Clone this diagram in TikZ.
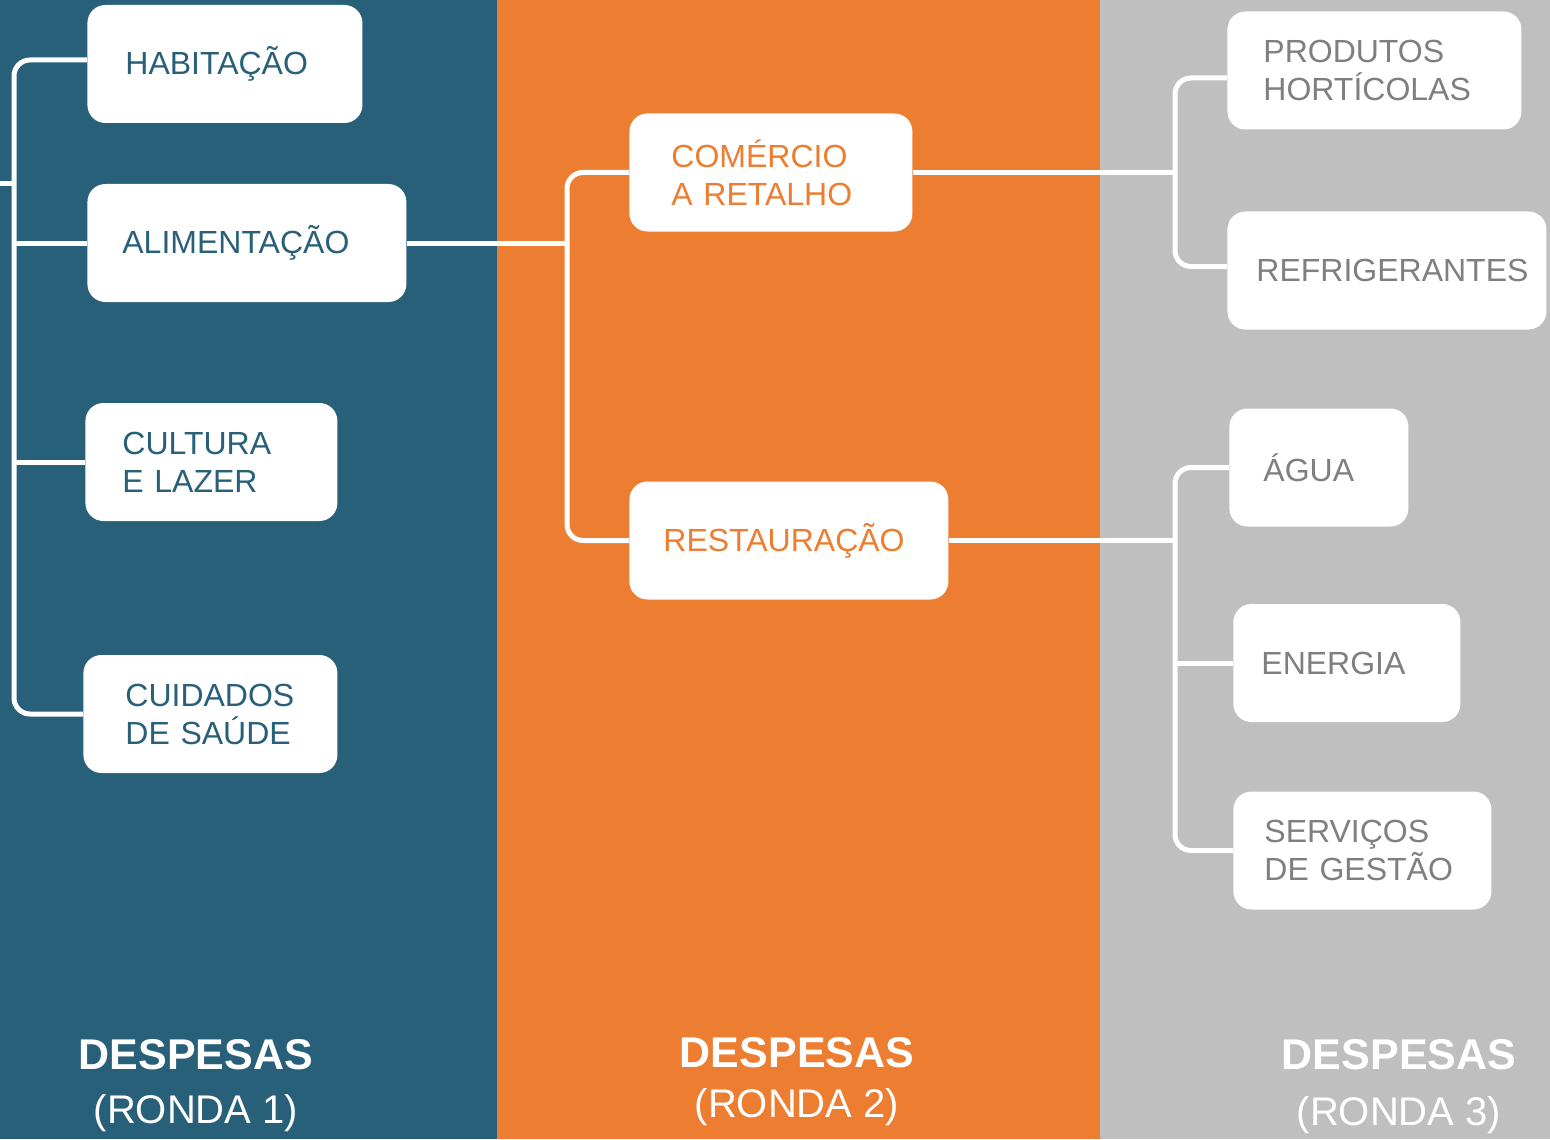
\documentclass[tikz,border=0pt]{standalone}
\usepackage{fontspec}
\setmainfont{Liberation Sans}
\definecolor{cblue}{HTML}{296079}
\definecolor{corange}{HTML}{ED7D31}
\definecolor{cgray}{HTML}{BFBFBF}
\definecolor{tgray}{HTML}{7F7F7F}
\begin{document}
\begin{tikzpicture}[x=0.5pt,y=-0.5pt,
  box/.style={rectangle, rounded corners=9pt, fill=white, draw=none, anchor=west,
    align=left, minimum height=59pt, inner ysep=0pt, font=\fontsize{16}{19}\selectfont},
  bluebox/.style={box, text=cblue},
  orangebox/.style={box, text=corange},
  graybox/.style={box, text=tgray},
  conn/.style={draw=white, line width=2.5pt, rounded corners=8pt},
  title/.style={anchor=base, inner sep=0pt, text=white, font=\fontsize{21.5}{24}\selectfont\bfseries},
  subtitle/.style={anchor=base, inner sep=0pt, text=white, font=\fontsize{20}{24}\selectfont}]
\useasboundingbox (0,0) rectangle (1550,1139);
% panels
\fill[cblue] (0,0) rectangle (497,1139);
\fill[corange] (497,0) rectangle (1100,1139);
\fill[cgray] (1100,0) rectangle (1550,1139);

% helper coordinates
\coordinate (lbx) at (14,0);
\coordinate (mbx) at (567,0);
\coordinate (rbx) at (1175,0);
\coordinate (lstub) at (0,184);

% round 1 boxes
\node[bluebox, text width=99.5pt, inner xsep=19pt, minimum width=137.5pt] (hab) at (87,64) {HABITAÇÃO};
\node[bluebox, text width=124.5pt, inner xsep=17.5pt] (ali) at (87,243) {ALIMENTAÇÃO};
\node[bluebox, text width=89pt, inner xsep=18.5pt] (cul) at (85,462) {CULTURA\\E LAZER};
\node[bluebox, text width=85pt, inner xsep=21pt] (cui) at (83,714) {CUIDADOS\\DE SAÚDE};

% round 2 boxes
\node[orangebox, text width=99.5pt, inner xsep=21pt] (com) at (629,172.5) {COMÉRCIO\\A RETALHO};
\node[orangebox, text width=125.5pt, inner xsep=17pt] (res) at (629,540.5) {RESTAURAÇÃO};

% round 3 boxes
\node[graybox, text width=111pt, inner xsep=18pt] (pro) at (1227,70.5) {PRODUTOS\\HORTÍCOLAS};
\node[graybox, text width=130.5pt, inner xsep=14.5pt] (ref) at (1227,270.5) {REFRIGERANTES};
\node[graybox, text width=55.5pt, inner xsep=17pt] (agu) at (1229,467.5) {ÁGUA};
\node[graybox, text width=85.5pt, inner xsep=14pt] (ene) at (1233,663) {ENERGIA};
\node[graybox, text width=98pt, inner xsep=15.5pt] (ser) at (1233,850.5) {SERVIÇOS\\DE GESTÃO};

% connectors round 1
\draw[conn] ([yshift=2pt]hab.west) -- ([yshift=2pt]hab.west -| lbx) -- (cui.west -| lbx) -- (cui.west);
\draw[conn] (ali.west) -- (ali.west -| lbx);
\draw[conn] (cul.west) -- (cul.west -| lbx);
\draw[conn] (lstub) -- (lstub -| lbx);

% connectors round 2
\draw[conn] (ali.east) -- (ali.east -| mbx);
\draw[conn] (com.west) -- (com.west -| mbx) -- (res.west -| mbx) -- (res.west);

% connectors round 3
\draw[conn] (com.east) -- (com.east -| rbx);
\draw[conn] ([yshift=-3.75pt]pro.west) -- ([yshift=-3.75pt]pro.west -| rbx) -- ([yshift=2pt]ref.west -| rbx) -- ([yshift=2pt]ref.west);
\draw[conn] (res.east) -- (res.east -| rbx);
\draw[conn] (agu.west) -- (agu.west -| rbx) -- (ser.west -| rbx) -- (ser.west);
\draw[conn] (ene.west) -- (ene.west -| rbx);

% titles
\node[title] (t1) at (196,1069) {DESPESAS};
\node[subtitle] (s1) at (196,1123) {(RONDA 1)};
\node[title] (t2) at (797,1067) {DESPESAS};
\node[subtitle] (s2) at (797,1117) {(RONDA 2)};
\node[title] (t3) at (1399,1069) {DESPESAS};
\node[subtitle] (s3) at (1399,1125) {(RONDA 3)};
\end{tikzpicture}
\end{document}
